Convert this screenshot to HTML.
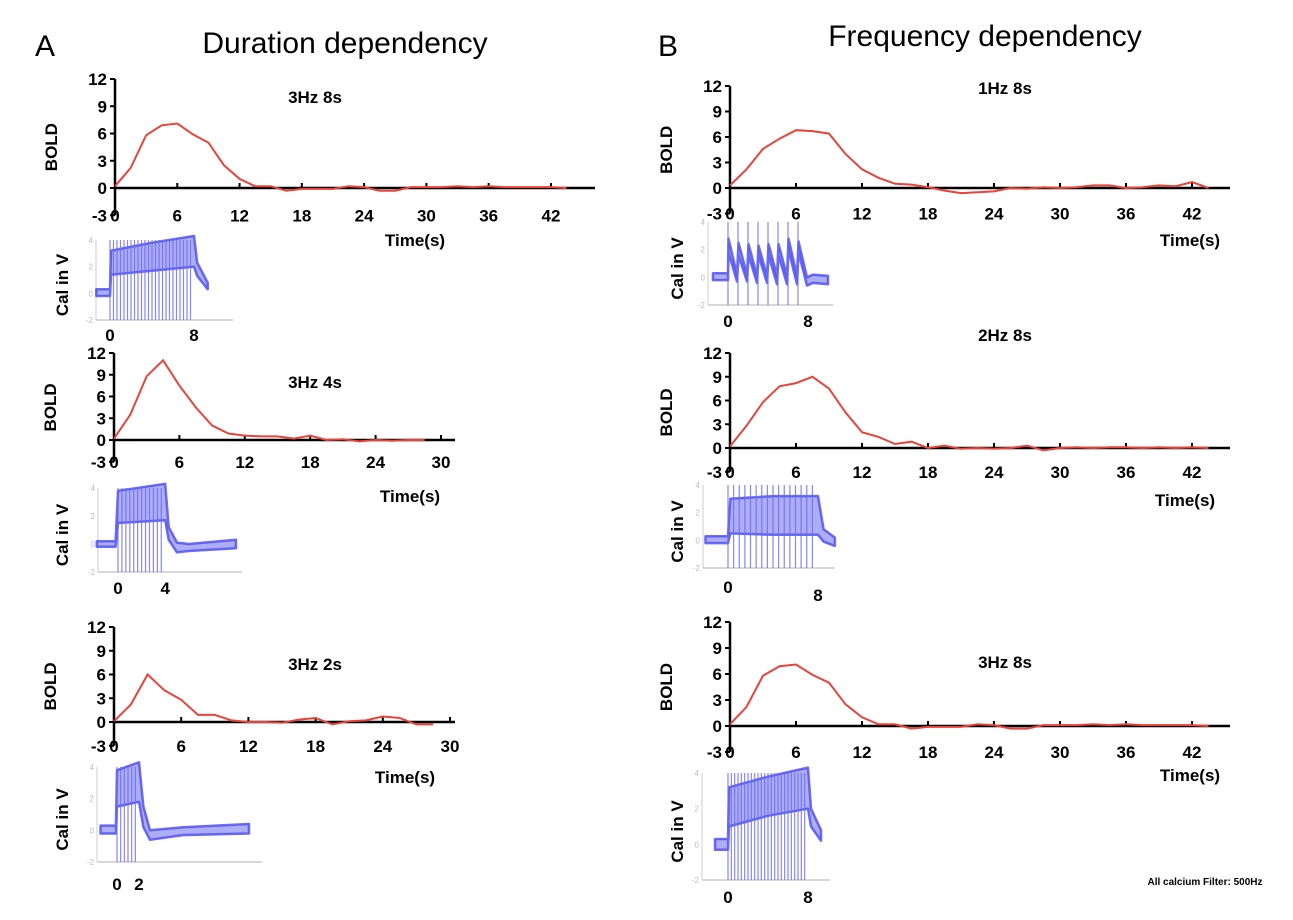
<!DOCTYPE html>
<html><head><meta charset="utf-8"><style>
body{margin:0;background:#fff;}
svg{display:block;font-family:"Liberation Sans",Arial,sans-serif;}
.tk{font-size:17px;font-weight:bold;fill:#000;}
.lb{font-size:17px;font-weight:bold;fill:#000;}
.hd{font-size:30px;fill:#000;}
</style></head><body>
<svg id="fig" width="1293" height="920" viewBox="0 0 1293 920">
<text class="hd" x="35" y="56">A</text>
<text class="hd" x="345" y="53" text-anchor="middle">Duration dependency</text>
<text class="hd" x="658" y="56">B</text>
<text class="hd" x="985" y="46" text-anchor="middle">Frequency dependency</text>
<text x="1205" y="885" text-anchor="middle" style="font-size:10px;font-weight:bold">All calcium Filter: 500Hz</text>
</svg>
<script>
// BOLD data (time step 1.5 s)
const boldA1 = [0.2,2.2,5.8,6.9,7.1,5.9,5.0,2.5,1.0,0.2,0.2,-0.3,-0.1,-0.1,-0.1,0.2,0.1,-0.3,-0.3,0.1,0.1,0.1,0.2,0.1,0.2,0.1,0.1,0.1,0.1,0.0];
const boldA2 = [0.2,3.5,8.8,11,7.5,4.5,2.0,0.9,0.6,0.5,0.5,0.2,0.6,0,0.1,-0.2,0,-0.1,0,0];
const boldA3 = [0.1,2.2,6.0,4.0,2.8,0.9,0.9,0.2,0,0,-0.1,0.3,0.5,-0.3,0.1,0.2,0.7,0.5,-0.3,-0.3];
const boldB1 = [0.3,2.2,4.6,5.8,6.8,6.7,6.4,4.0,2.2,1.2,0.5,0.4,0.1,-0.3,-0.6,-0.5,-0.4,0,-0.1,0.1,0,0.1,0.3,0.3,0,0.1,0.3,0.2,0.7,0];
const boldB2 = [0.2,2.8,5.8,7.8,8.2,9.0,7.5,4.5,2.0,1.4,0.5,0.8,0,0.3,-0.1,0,-0.1,0,0.3,-0.3,0,0.1,0,0.1,0.1,0,0.1,0,0.1,0];
const boldB3 = [0.2,2.2,5.8,6.9,7.1,5.9,5.0,2.5,1.0,0.2,0.2,-0.3,-0.1,-0.1,-0.1,0.2,0.1,-0.3,-0.3,0.1,0.1,0.1,0.2,0.1,0.2,0.1,0.1,0.1,0.1,0.0];
const yTicks = [12,9,6,3,0,-3];
const xTicks42 = [0,6,12,18,24,30,36,42];
const xTicks30 = [0,6,12,18,24,30];
const titles = ["3Hz 8s","3Hz 4s","3Hz 2s","1Hz 8s","2Hz 8s","3Hz 8s"];
// calcium: stimulus frequency (Hz), duration (s), band edges [t, dF/F]
const calFreq = [3,3,3,1,2,3];
const calDur = [8,4,2,8,8,8];
const calLowA1 = [[-1.3,-0.2],[0,-0.2],[0.1,1.4],[4,1.7],[8,2.0],[8.3,1.3],[9.3,0.3]];
const calHighA1 = [[-1.3,0.3],[0,0.3],[0.1,3.2],[4,3.8],[8,4.3],[8.3,2.3],[9.3,0.8]];
const calLowA2 = [[-1.8,-0.2],[-0.2,-0.2],[0,1.5],[4,1.7],[4.3,0.3],[5,-0.6],[6,-0.5],[10,-0.3]];
const calHighA2 = [[-1.8,0.2],[-0.2,0.2],[0,3.8],[4,4.3],[4.3,1.2],[5,0.1],[6,0],[10,0.3]];
const calLowA3 = [[-1.5,-0.2],[-0.1,-0.2],[0,1.5],[2,1.8],[2.4,0.2],[3,-0.6],[6,-0.3],[12,-0.2]];
const calHighA3 = [[-1.5,0.3],[-0.1,0.3],[0,3.8],[2,4.3],[2.4,1.5],[3,0],[6,0.2],[12,0.4]];
const calLowB1 = [[-1.5,-0.2],[0,-0.2],[0.05,1.8],[0.9,-0.3],[1.05,1.6],[1.9,-0.3],[2.05,1.6],[2.9,-0.4],[3.05,1.6],[3.9,-0.4],[4.05,1.6],[4.9,-0.5],[5.05,1.6],[5.9,-0.5],[6.05,2.0],[6.9,-0.5],[7.05,1.8],[7.9,-0.6],[8.5,-0.4],[10,-0.5]];
const calHighB1 = [[-1.5,0.3],[0,0.3],[0.05,2.8],[0.9,0.2],[1.05,2.5],[1.9,0.2],[2.05,2.4],[2.9,0.1],[3.05,2.3],[3.9,0.1],[4.05,2.4],[4.9,0.1],[5.05,2.4],[5.9,0.1],[6.05,2.8],[6.9,0.1],[7.05,2.6],[7.9,0],[8.5,0.2],[10,0.1]];
const calLowB2 = [[-2,-0.2],[0,-0.2],[0.2,0.5],[4,0.4],[8,0.4],[8.5,-0.1],[9.5,-0.4]];
const calHighB2 = [[-2,0.3],[0,0.3],[0.2,3.0],[4,3.2],[8,3.2],[8.5,0.8],[9.5,0.2]];
const calLowB3 = [[-1.3,-0.3],[0,-0.3],[0.1,1.0],[4,1.6],[8,2.0],[8.3,1.0],[9.3,0.2]];
const calHighB3 = [[-1.3,0.3],[0,0.3],[0.1,3.2],[4,3.8],[8,4.3],[8.3,2.0],[9.3,0.8]];
const calLows=[calLowA1,calLowA2,calLowA3,calLowB1,calLowB2,calLowB3];
const calHighs=[calHighA1,calHighA2,calHighA3,calHighB1,calHighB2,calHighB3];
const calTickLabels = [[0,8],[0,4],[0,2],[0,8],[0,8],[0,8]];
const bolds=[boldA1,boldA2,boldA3,boldB1,boldB2,boldB3];

const NS="http://www.w3.org/2000/svg";
const svg=document.getElementById('fig');
function mk(tag,attrs,parent){const e=document.createElementNS(NS,tag);for(const k in attrs)e.setAttribute(k,attrs[k]);(parent||svg).appendChild(e);return e;}

const L=[
 {x0:115,x1:595,xu:10.38,xt:xTicks42,y12:79,y0:188,tx:315,ty:103,timeX:415,timeY:246,
  cal:{x0:110,xs:10.5,left:96,right:233,top:240,bot:320,labY:[341,341],calX:68}},
 {x0:114,x1:455,xu:10.9,xt:xTicks30,y12:353,y0:440,tx:315,ty:388,timeX:410,timeY:502,
  cal:{x0:118,xs:11.8,left:98,right:242,top:488,bot:572,labY:[594,594],calX:68}},
 {x0:114,x1:455,xu:11.2,xt:xTicks30,y12:627,y0:722,tx:315,ty:670,timeX:405,timeY:783,
  cal:{x0:117,xs:11,left:97,right:262,top:767,bot:862,labY:[890,890],calX:68}},
 {x0:730,x1:1230,xu:11,xt:xTicks42,y12:86,y0:188,tx:1005,ty:94,timeX:1190,timeY:246,
  cal:{x0:728,xs:10,left:708,right:833,top:222,bot:305,labY:[327,327],calX:683}},
 {x0:730,x1:1230,xu:11,xt:xTicks42,y12:353,y0:448,tx:1005,ty:341,timeX:1185,timeY:506,
  cal:{x0:728,xs:11.25,left:703,right:835,top:485,bot:568,labY:[593,601],calX:683}},
 {x0:730,x1:1230,xu:11,xt:xTicks42,y12:622,y0:726,tx:1005,ty:668,timeX:1190,timeY:781,
  cal:{x0:728,xs:10,left:702,right:830,top:773,bot:880,labY:[903,903],calX:683}}
];

L.forEach((p,i)=>{
  const g=mk('g',{});
  
  
  const sy=(p.y0-p.y12)/12;
  const Y=v=>p.y0-v*sy;
  const X=t=>p.x0+t*p.xu;
  const ya=mk('line',{x1:p.x0,y1:p.y12,x2:p.x0,y2:Y(-3),stroke:'#000','stroke-width':2.5},g);
  
  
  const xa=mk('line',{x1:p.x0,y1:p.y0,x2:p.x1,y2:p.y0,stroke:'#000','stroke-width':2.5},g);
  
  
  yTicks.forEach(v=>{
    mk('line',{x1:p.x0-5,y1:Y(v),x2:p.x0,y2:Y(v),stroke:'#000','stroke-width':2},g);
    const t=mk('text',{class:'tk',x:p.x0-8,y:Y(v)+6,'text-anchor':'end'},g);
    t.textContent=v;
    
    
  });
  p.xt.forEach(v=>{
    mk('line',{x1:X(v),y1:p.y0-5,x2:X(v),y2:p.y0,stroke:'#000','stroke-width':2},g);
    const t=mk('text',{class:'tk',x:X(v),y:Y(-3)+6,'text-anchor':'middle'},g);
    t.textContent=v;
    
    
  });
  const bl=mk('text',{class:'lb',x:0,y:0,'text-anchor':'middle',transform:`translate(${p.x0-58},${(p.y12+Y(-3))/2}) rotate(-90)`},g);
  bl.textContent='BOLD';
  
  
  const tt=mk('text',{class:'lb',x:p.tx,y:p.ty,'text-anchor':'middle'},g);
  tt.textContent=titles[i];
  
  
  const tm=mk('text',{class:'lb',x:p.timeX,y:p.timeY,'text-anchor':'middle'},g);
  tm.textContent='Time(s)';
  
  
  const pts=bolds[i].map((v,k)=>X(k*1.5).toFixed(1)+','+Y(v).toFixed(1)).join(' ');
  const ln=mk('polyline',{points:pts,fill:'none',stroke:'#e8443a','stroke-width':2},g);
  
  

  const c=p.cal;
  const cg=mk('g',{},g);
  
  
  const CY=v=>c.bot-(v+2)/6*(c.bot-c.top);
  const CX=t=>c.x0+t*c.xs;
  mk('line',{x1:c.left,y1:c.top,x2:c.left,y2:c.bot,stroke:'#ccc','stroke-width':1},cg);
  mk('line',{x1:c.left,y1:c.bot,x2:c.right,y2:c.bot,stroke:'#ccc','stroke-width':1.5},cg);
  [-2,0,2,4].forEach(v=>{const t=mk('text',{x:c.left-3,y:CY(v)+3,'text-anchor':'end',style:'font-size:8px;fill:#bbb'},cg);t.textContent=v;});
  const lo=calLows[i], hi=calHighs[i];
  const poly=hi.map(q=>CX(q[0]).toFixed(1)+','+CY(q[1]).toFixed(1)).concat(lo.slice().reverse().map(q=>CX(q[0]).toFixed(1)+','+CY(q[1]).toFixed(1))).join(' ');
  const band=mk('polygon',{points:poly,fill:'#6a6af2','fill-opacity':0.55,stroke:'#4a4af0','stroke-width':2.5,'stroke-opacity':0.8,'stroke-linejoin':'round'},cg);
  
  
  const n=calFreq[i]*calDur[i];
  for(let k=0;k<n;k++){
    const t=k/calFreq[i];
    const pl=mk('line',{x1:CX(t),y1:c.top,x2:CX(t),y2:c.bot,stroke:'#6a6af0','stroke-width':1.2,opacity:0.8},cg);
    
    
  }
  calTickLabels[i].forEach((v,k)=>{
    const t=mk('text',{class:'tk',x:CX(v),y:c.labY[k],'text-anchor':'middle'},cg);
    t.textContent=v;
    
    
  });
  const cl=mk('text',{class:'lb',x:0,y:0,'text-anchor':'middle',transform:`translate(${c.calX},${(c.top+c.bot)/2+5}) rotate(-90)`},cg);
  cl.textContent='Cal in V';
  
  
});
</script>
</body></html>
